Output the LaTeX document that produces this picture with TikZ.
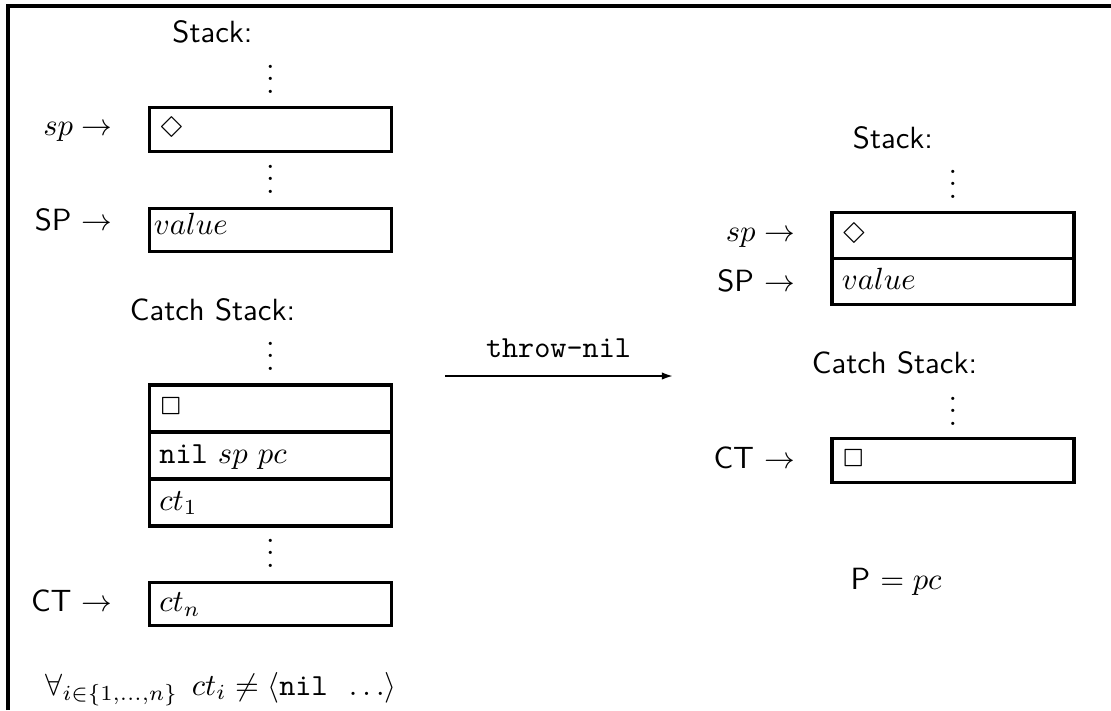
\documentclass[tikz,border=0pt]{standalone}
\usepackage{latexsym}
\usetikzlibrary{arrows.meta}
\begin{document}
\begin{tikzpicture}[x=0.326pt,y=-0.326pt,
  frame/.style={line width=1.2pt},
  cell/.style={draw, line width=1.1pt, minimum height=14.2pt, text width=72.4pt, inner xsep=3.3pt, inner ysep=0pt, text height=7pt, text depth=2pt, align=left, anchor=center},
  head/.style={font=\sffamily, anchor=base, inner sep=0pt},
  lbl/.style={anchor=base east, inner sep=0pt},
  vdotsnode/.style={anchor=base, inner sep=0pt, text height=8.5pt, text depth=0pt},
  trans/.style={line width=0.6pt, -{Latex[length=3.6pt,width=2.4pt]}}
]
\useasboundingbox (0,0) rectangle (1111,710);
\draw[frame] (8,710) -- (8,6) -- (1111,6);

% left state
\node[head] (lstack) at (212.5,42) {Stack:};
\node[vdotsnode] (ld1) at (270.5,93) {$\vdots$};
\node[cell] (ls1) at (270.5,129.5) {$\Diamond$};
\node[vdotsnode] (ld2) at (270.5,193) {$\vdots$};
\node[cell, text height=6.1pt, text depth=2.9pt, inner xsep=1.5pt, text width=76pt] (ls2) at (270.5,230) {$value$};
\node[lbl] (lsp) at (113,135.5) {$sp \rightarrow$};
\node[lbl] (lSP) at (113,230) {\textsf{SP} $\rightarrow$};
\node[head] (lcatch) at (212.5,320) {Catch Stack:};
\node[vdotsnode] (ld3) at (270.5,370) {$\vdots$};
\node[cell, minimum height=15.3pt] (lc1) at (270.5,408.5) {$\Box$};
\node[cell, minimum height=15.3pt] (lc2) at (270.5,455.5) {\texttt{nil\ }$sp$ $pc$};
\node[cell, minimum height=15.3pt] (lc3) at (270.5,502.5) {$ct_1$};
\node[vdotsnode] (ld4) at (270.5,567) {$\vdots$};
\node[cell] (lc4) at (270.5,604) {$ct_n$};
\node[lbl] (lCT) at (113,611) {\textsf{CT} $\rightarrow$};
\node[anchor=base west, inner sep=0pt] (cond) at (45,695) {$\forall_{i\in\{1,\ldots,n\}}\;\, ct_i \neq \langle\texttt{nil\ }\ldots\rangle$};

% transition
\coordinate (a1) at (445,376);
\coordinate (a2) at (673,376);
\draw[trans] (a1) -- (a2);
\node[anchor=base, inner sep=0pt] (tlabel) at (558.5,357) {\texttt{throw-nil}};

% right state
\node[head] (rstack) at (893,148) {Stack:};
\node[vdotsnode] (rd1) at (953,198) {$\vdots$};
\node[cell, minimum height=14.9pt] (rs1) at (953,235.5) {$\Diamond$};
\node[cell, minimum height=14.9pt] (rs2) at (953,281.5) {$value$};
\node[lbl] (rsp) at (795.5,241) {$sp \rightarrow$};
\node[lbl] (rSP) at (795.5,291.5) {\textsf{SP} $\rightarrow$};
\node[head] (rcatch) at (894.5,373) {Catch Stack:};
\node[vdotsnode] (rd2) at (953,425) {$\vdots$};
\node[cell] (rc1) at (953,460.5) {$\Box$};
\node[lbl] (rCT) at (795.5,468) {\textsf{CT} $\rightarrow$};
\node[anchor=base west, inner sep=0pt] (pc) at (850,589) {\textsf{P} $= pc$};
\end{tikzpicture}
\end{document}
